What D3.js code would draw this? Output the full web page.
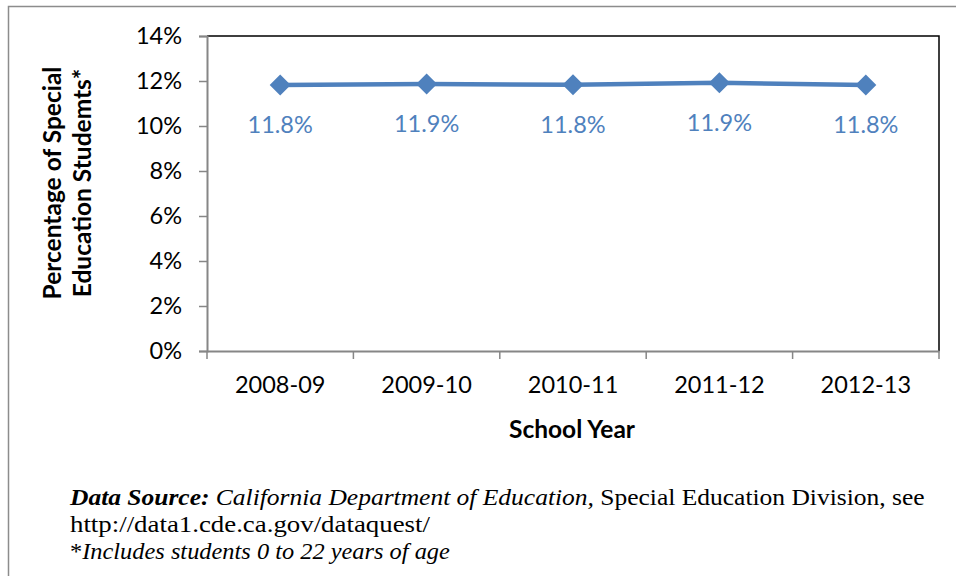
<!DOCTYPE html>
<html>
<head>
<meta charset="utf-8">
<script src="https://cdn.jsdelivr.net/npm/d3@7"></script>
<style>
  body { margin: 0; background: #fff; }
  svg { display: block; }
</style>
</head>
<body>
<svg id="chart" width="956" height="576"></svg>
<script>
const years = ['2008-09', '2009-10', '2010-11', '2011-12', '2012-13'];
const shares = [11.82, 11.87, 11.83, 11.92, 11.82];
const labels = ['11.8%', '11.9%', '11.8%', '11.9%', '11.8%'];
const yTicks = [0, 2, 4, 6, 8, 10, 12, 14];

const svg = d3.select('#chart');
const blue = '#4F81BD';
const font = 'Lato, "Open Sans", sans-serif';

// outer frame
svg.append('rect')
    .attr('x', 8.5).attr('y', 6.5)
    .attr('width', 960).attr('height', 600)
    .attr('fill', 'none')
    .attr('stroke', '#8c8c8c')
    .attr('stroke-width', 1.5);

const plotL = 207, plotR = 939, plotT = 36, plotB = 351;

const x = d3.scaleBand().domain(years).range([plotL, plotR]);
const y = d3.scaleLinear().domain([0, 14]).range([plotB, plotT]);

// plot border (top/right black)
svg.append('path')
    .attr('d', `M${plotL},${plotT}H${plotR}V${plotB}`)
    .attr('fill', 'none')
    .attr('stroke', '#000')
    .attr('stroke-width', 1.5);

// y axis
const yAxis = svg.append('g')
    .attr('transform', `translate(${plotL},0)`)
    .call(d3.axisLeft(y).tickValues(yTicks).tickFormat(d => d + '%').tickSize(8).tickPadding(17));
yAxis.select('.domain').attr('stroke', '#868686').attr('stroke-width', 2);
yAxis.selectAll('.tick line').attr('stroke', '#868686').attr('stroke-width', 1.5);
yAxis.selectAll('text').attr('font-family', font).attr('font-size', 23.5).attr('fill', '#000');

// x axis
const xAxis = svg.append('g')
    .attr('transform', `translate(0,${plotB})`)
    .call(d3.axisBottom(x).tickSize(0).tickPadding(25));
xAxis.select('.domain').attr('stroke', '#868686').attr('stroke-width', 2);
xAxis.selectAll('text').attr('font-family', font).attr('font-size', 23.5).attr('fill', '#000');
const bounds = years.map(d => x(d)).concat([plotR]);
xAxis.selectAll('.xtick')
    .data(bounds)
    .enter().append('line')
    .attr('x1', d => d).attr('x2', d => d)
    .attr('y1', 0).attr('y2', 8)
    .attr('stroke', '#868686').attr('stroke-width', 1.5);

// line
const cx = d => x(d) + x.bandwidth() / 2;
const line = d3.line()
    .x((d, i) => cx(years[i]))
    .y(d => y(d));
svg.append('path')
    .datum(shares)
    .attr('d', line)
    .attr('fill', 'none')
    .attr('stroke', blue)
    .attr('stroke-width', 4.5);

svg.selectAll('.marker')
    .data(shares)
    .enter().append('path')
    .attr('class', 'marker')
    .attr('transform', (d, i) => `translate(${cx(years[i])},${y(d)})`)
    .attr('d', 'M0,-10.5L10.5,0L0,10.5L-10.5,0Z')
    .attr('fill', blue);

svg.selectAll('.dlabel')
    .data(shares)
    .enter().append('text')
    .attr('class', 'dlabel')
    .attr('x', (d, i) => cx(years[i]))
    .attr('y', d => y(d) + 48)
    .attr('text-anchor', 'middle')
    .attr('font-family', font)
    .attr('font-size', 23.5)
    .attr('fill', blue)
    .text((d, i) => labels[i]);

// axis titles
const yt = svg.append('text')
    .attr('transform', 'translate(61,183) rotate(-90)')
    .attr('text-anchor', 'middle')
    .attr('font-family', font)
    .attr('font-weight', 'bold')
    .attr('font-size', 24.5)
    .attr('fill', '#000');
yt.append('tspan').attr('x', 0).attr('dy', 0).text('Percentage of Special');
yt.append('tspan').attr('x', 0).attr('dy', 30).text('Education Studemts*');

svg.append('text')
    .attr('x', 572).attr('y', 438)
    .attr('text-anchor', 'middle')
    .attr('font-family', font)
    .attr('font-weight', 'bold')
    .attr('font-size', 24.5)
    .attr('fill', '#000')
    .text('School Year');

// source note, squeezed to the reference line widths
const serif = '"Liberation Serif", "DejaVu Serif", serif';
function noteLine(yPos, width, parts) {
    const t = svg.append('text')
        .attr('font-family', serif)
        .attr('font-size', 24)
        .attr('fill', '#000');
    parts.forEach(p => {
        const s = t.append('tspan').text(p.text);
        if (p.bold) s.attr('font-weight', 'bold');
        if (p.italic) s.attr('font-style', 'italic');
    });
    const w = t.node().getComputedTextLength();
    t.attr('transform', `translate(70,${yPos}) scale(${width / w},1)`);
}
noteLine(505, 855, [
    { text: 'Data Source:', bold: true, italic: true },
    { text: ' California Department of Education,', italic: true },
    { text: ' Special Education Division, see' }
]);
noteLine(532, 360, [{ text: 'http://data1.cde.ca.gov/dataquest/' }]);
noteLine(559, 380, [
    { text: '*' },
    { text: 'Includes students 0 to 22 years of age', italic: true }
]);
</script>
</body>
</html>
